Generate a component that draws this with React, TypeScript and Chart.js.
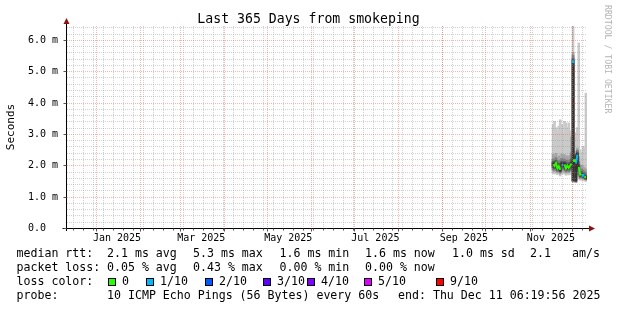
import React, { useEffect, useRef } from "react";
import { Chart, registerables } from "chart.js";

Chart.register(...registerables);

const FONT = "'DejaVu Sans Mono', monospace";

const titleText = "Last 365 Days from smokeping";
const yAxisTitle = "Seconds";
const sideText = "RRDTOOL / TOBI OETIKER";

const rangeStart = "2024-12-11T06:19:56Z";
const rangeEnd = "2025-12-11T06:19:56Z";

// one sample per day (noon)
const dayLabels = [
  "2025-11-17", "2025-11-18", "2025-11-19", "2025-11-20", "2025-11-21", "2025-11-22",
  "2025-11-23", "2025-11-24", "2025-11-25", "2025-11-26", "2025-11-27", "2025-11-28",
  "2025-11-29", "2025-11-30", "2025-12-01", "2025-12-02", "2025-12-03", "2025-12-04",
  "2025-12-05", "2025-12-06", "2025-12-07", "2025-12-08", "2025-12-09", "2025-12-10",
];

// median rtt in ms
const medianRtt = [
  2.03, 1.98, 2.07, 1.90, 1.97, 1.85, 2.03, 2.00, 2.03, 1.90, 1.99, 1.92,
  2.00, 2.05, 5.30, 2.15, 2.05, 2.34, 1.95, 1.70, 1.72, 1.68, 1.65, 1.60,
];
// lost pings out of 10 (index into lossColors)
const lossCount = [
  0, 0, 0, 0, 0, 0, 1, 1, 0, 0, 0, 0,
  0, 0, 1, 0, 1, 1, 0, 0, 0, 1, 0, 0,
];

// smoke bands (ms): outer band = ping 1..10, inner = ping 5..6
const smokeLo1 = [1.74, 1.72, 1.76, 1.70, 1.73, 1.66, 1.75, 1.72, 1.74, 1.68, 1.71, 1.69, 1.72, 1.70, 1.45, 1.62, 1.60, 1.55, 1.58, 1.52, 1.55, 1.50, 1.52, 1.48];
const smokeHi1 = [3.30, 3.40, 3.20, 3.10, 3.25, 3.45, 3.30, 3.00, 3.40, 3.35, 3.20, 3.35, 3.10, 2.95, 6.60, 3.05, 2.90, 3.20, 5.90, 2.50, 2.40, 2.60, 2.55, 4.30];
const smokeLo2 = [1.82, 1.80, 1.84, 1.76, 1.80, 1.72, 1.84, 1.80, 1.82, 1.75, 1.80, 1.76, 1.80, 1.80, 1.50, 1.75, 1.55, 1.65, 1.70, 1.57, 1.60, 1.55, 1.56, 1.52];
const smokeHi2 = [2.35, 2.30, 2.38, 2.22, 2.30, 2.20, 2.36, 2.32, 2.34, 2.22, 2.30, 2.24, 2.32, 2.90, 5.60, 2.45, 2.40, 2.55, 2.28, 1.98, 2.00, 1.95, 1.92, 1.88];
const smokeLo3 = [1.86, 1.84, 1.88, 1.80, 1.84, 1.76, 1.88, 1.85, 1.86, 1.79, 1.84, 1.80, 1.84, 1.85, 1.50, 1.80, 1.48, 1.70, 1.76, 1.60, 1.62, 1.58, 1.58, 1.54];
const smokeHi3 = [2.20, 2.15, 2.24, 2.08, 2.15, 2.05, 2.22, 2.18, 2.20, 2.08, 2.16, 2.10, 2.18, 2.40, 5.50, 2.32, 2.38, 2.48, 2.12, 1.86, 1.88, 1.84, 1.80, 1.76];
const smokeLo4 = [1.92, 1.89, 1.94, 1.84, 1.89, 1.79, 1.93, 1.90, 1.92, 1.83, 1.90, 1.85, 1.90, 1.90, 1.50, 1.90, 1.46, 1.80, 1.84, 1.63, 1.65, 1.61, 1.60, 1.56];
const smokeHi4 = [2.12, 2.07, 2.16, 2.00, 2.06, 1.96, 2.13, 2.09, 2.12, 1.99, 2.08, 2.01, 2.09, 2.20, 5.40, 2.24, 2.35, 2.42, 2.04, 1.79, 1.80, 1.76, 1.72, 1.68];
const smokeLo5 = [1.98, 1.94, 2.01, 1.87, 1.93, 1.82, 1.98, 1.96, 1.98, 1.87, 1.95, 1.89, 1.96, 1.98, 1.50, 2.05, 1.50, 1.90, 1.90, 1.66, 1.68, 1.64, 1.62, 1.57];
const smokeHi5 = [2.08, 2.02, 2.12, 1.94, 2.01, 1.89, 2.08, 2.05, 2.08, 1.94, 2.03, 1.96, 2.04, 2.10, 5.35, 2.20, 2.30, 2.38, 2.00, 1.74, 1.76, 1.72, 1.68, 1.64];

const smokeColors = ["#cacaca", "#a4a4a4", "#7e7e7e", "#585858", "#323232"];

const lossNames = ["0", "1/10", "2/10", "3/10", "4/10", "5/10", "9/10"];
const lossColors = ["#26ff00", "#00b8ff", "#0059ff", "#5e00ff", "#7e00ff", "#dd00ff", "#ff0000"];

const yMax = 6.44;
const yTickValues = [0, 1, 2, 3, 4, 5, 6];
const yTickLabels = ["0.0", "1.0 m", "2.0 m", "3.0 m", "4.0 m", "5.0 m", "6.0 m"];
const yMinorStep = 0.2;

const xLabelText = ["Jan 2025", "Mar 2025", "May 2025", "Jul 2025", "Sep 2025", "Nov 2025"];
const xLabelDates = ["2025-01-16", "2025-03-16", "2025-05-16", "2025-07-16", "2025-09-16", "2025-11-16"];

const legendRtt = [
  ["median rtt:", 16.5], ["2.1 ms avg", 107], ["5.3 ms max", 193], ["1.6 ms min", 279.5],
  ["1.6 ms now", 365], ["1.0 ms sd", 452], ["2.1", 530], ["am/s", 572],
];
const legendLoss = [
  ["packet loss:", 16.5], ["0.05 % avg", 107], ["0.43 % max", 193], ["0.00 % min", 279.5], ["0.00 % now", 365],
];
const legendLossColorX = [108, 146, 205, 263, 307, 364, 436];
const legendProbe = [
  ["probe:", 16.5], ["10 ICMP Echo Pings (56 Bytes) every 60s", 107], ["end: Thu Dec 11 06:19:56 2025", 398],
];

const DAY = 86400000;
const toMs = (d: string) => Date.parse(d + "T12:00:00Z");
const dateMs = (d: string) => Date.parse(d + "T00:00:00Z");

const GRID_MINOR = "rgba(140,140,140,0.40)";
const GRID_MAJOR = "rgba(222,80,72,0.42)";
const ARROW = "#8c1010";

function isolatedRadius(ctx: any) {
  const d = ctx.dataset.data;
  const i = ctx.dataIndex;
  const v = d[i] && d[i].y;
  if (v == null) return 0;
  const p = d[i - 1] ? d[i - 1].y : null;
  const n = d[i + 1] ? d[i + 1].y : null;
  return p == null && n == null ? 2 : 0;
}

const rrdPlugin = {
  id: "rrd",
  beforeDraw(chart: any) {
    const { ctx, width, height } = chart;
    ctx.save();
    ctx.fillStyle = "#ffffff";
    ctx.fillRect(0, 0, width, height);
    ctx.restore();
  },
  afterDatasetsDraw(chart: any) {
    const { ctx, chartArea: a, scales } = chart;
    const x = scales.x;
    const y = scales.y;
    const px = (v: number) => Math.round(x.getPixelForValue(v)) + 0.5;
    const py = (v: number) => Math.round(y.getPixelForValue(v)) + 0.5;
    const line = (x1: number, y1: number, x2: number, y2: number) => {
      ctx.beginPath();
      ctx.moveTo(x1, y1);
      ctx.lineTo(x2, y2);
      ctx.stroke();
    };
    const t0 = x.min;
    const t1 = x.max;
    ctx.save();
    ctx.lineWidth = 1;
    ctx.setLineDash([1, 1]);

    // minor horizontal grid
    ctx.strokeStyle = GRID_MINOR;
    for (let k = 1; k * yMinorStep <= yMax + 1e-9; k++) {
      if (k % 5 === 0) continue;
      const yy = py(k * yMinorStep);
      line(a.left + 1, yy, a.right, yy);
    }
    // minor vertical grid: weekly (Mondays)
    const sd = new Date(t0);
    let wk = Date.UTC(sd.getUTCFullYear(), sd.getUTCMonth(), sd.getUTCDate());
    while (new Date(wk).getUTCDay() !== 1 || wk < t0) wk += DAY;
    const weeks: number[] = [];
    for (let t = wk; t < t1; t += 7 * DAY) weeks.push(t);
    weeks.forEach((t) => line(px(t), a.top, px(t), a.bottom));
    // month starts
    const months: number[] = [];
    const yr = sd.getUTCFullYear();
    let mo = sd.getUTCMonth() + 1;
    for (;;) {
      const t = Date.UTC(yr, mo, 1);
      if (t >= t1) break;
      months.push(t);
      mo++;
    }
    ctx.strokeStyle = GRID_MAJOR;
    months.forEach((t) => line(px(t), a.top, px(t), a.bottom));
    yTickValues.forEach((v) => {
      if (v === 0) return;
      line(a.left + 1, py(v), a.right, py(v));
    });

    // axes
    ctx.setLineDash([]);
    ctx.strokeStyle = "#000000";
    const y0 = py(0);
    const xl = Math.round(a.left) + 0.5;
    line(xl - 4, y0, a.right + 3, y0);
    line(xl, a.bottom + 3, xl, a.top - 3);
    // ticks
    ctx.strokeStyle = "#555555";
    yTickValues.forEach((v) => line(xl - 3, py(v), xl, py(v)));
    weeks.forEach((t) => line(px(t), y0, px(t), y0 + 2));
    months.forEach((t) => line(px(t), y0, px(t), y0 + 3));
    // arrows
    ctx.fillStyle = ARROW;
    ctx.beginPath();
    ctx.moveTo(a.right + 2, y0 - 3);
    ctx.lineTo(a.right + 8, y0);
    ctx.lineTo(a.right + 2, y0 + 3);
    ctx.closePath();
    ctx.fill();
    ctx.beginPath();
    ctx.moveTo(xl - 3, a.top - 2);
    ctx.lineTo(xl, a.top - 8);
    ctx.lineTo(xl + 3, a.top - 2);
    ctx.closePath();
    ctx.fill();

    // tick labels
    ctx.fillStyle = "#000000";
    ctx.font = `10px ${FONT}`;
    ctx.textBaseline = "middle";
    ctx.textAlign = "left";
    yTickValues.forEach((v, i) => ctx.fillText(yTickLabels[i], 28, y.getPixelForValue(v) + 0.5));
    ctx.textAlign = "center";
    xLabelDates.forEach((d, i) => ctx.fillText(xLabelText[i], x.getPixelForValue(dateMs(d)), a.bottom + 10));
    ctx.restore();
  },
  afterDraw(chart: any) {
    const { ctx, chartArea: a, width } = chart;
    ctx.save();
    ctx.fillStyle = "#000000";
    ctx.textBaseline = "middle";
    ctx.textAlign = "left";

    // title, centred on the whole image
    ctx.save();
    ctx.font = `13.2px ${FONT}`;
    ctx.textAlign = "center";
    ctx.fillText(titleText, width / 2, 19.5);
    ctx.restore();

    // y axis title
    ctx.save();
    ctx.font = `11px ${FONT}`;
    ctx.translate(11, (a.top + a.bottom) / 2);
    ctx.rotate(-Math.PI / 2);
    ctx.textAlign = "center";
    ctx.fillText(yAxisTitle, 0, 0);
    ctx.restore();

    // side watermark
    ctx.save();
    ctx.font = `8.2px ${FONT}`;
    ctx.fillStyle = "#b4b4b4";
    ctx.translate(607.5, 5);
    ctx.rotate(Math.PI / 2);
    ctx.fillText(sideText, 0, 0);
    ctx.restore();

    // legend
    ctx.font = `11.6px ${FONT}`;
    const r1 = a.bottom + 26;
    const rh = 14;
    legendRtt.forEach(([s, xx]) => ctx.fillText(s as string, xx as number, r1));
    legendLoss.forEach(([s, xx]) => ctx.fillText(s as string, xx as number, r1 + rh));
    ctx.fillText("loss color:", 16.5, r1 + 2 * rh);
    lossNames.forEach((n, i) => {
      const bx = legendLossColorX[i];
      const by = r1 + 2 * rh - 4;
      ctx.fillStyle = lossColors[i];
      ctx.fillRect(bx, by, 8, 8);
      ctx.strokeStyle = "#000000";
      ctx.lineWidth = 1;
      ctx.strokeRect(bx + 0.5, by + 0.5, 7, 7);
      ctx.fillStyle = "#000000";
      ctx.fillText(n, bx + 14, r1 + 2 * rh);
    });
    legendProbe.forEach(([s, xx]) => ctx.fillText(s as string, xx as number, r1 + 3 * rh));
    ctx.restore();
  },
};

export default function App() {
  const ref = useRef<HTMLCanvasElement | null>(null);

  useEffect(() => {
    document.body.style.margin = "0";
    const canvas = ref.current;
    if (!canvas) return;
    const xs = dayLabels.map(toMs);
    const smokeLo = [smokeLo1, smokeLo2, smokeLo3, smokeLo4, smokeLo5];
    const smokeHi = [smokeHi1, smokeHi2, smokeHi3, smokeHi4, smokeHi5];

    const smokeSets = smokeColors.map((c, k) => ({
      type: "bar" as const,
      label: `smoke ${k + 1}`,
      data: xs.map((t, i) => ({ x: t, y: [smokeLo[k][i], smokeHi[k][i]] })),
      backgroundColor: c,
      borderWidth: 0,
      barThickness: 2,
      grouped: false,
      order: 10 - k,
    }));
    const medianSets = lossColors.map((c, k) => ({
      type: "line" as const,
      label: `median ${lossNames[k]}`,
      data: xs.map((t, i) => ({ x: t, y: lossCount[i] === k ? medianRtt[i] : null })),
      borderColor: c,
      backgroundColor: c,
      borderWidth: 2,
      pointStyle: "rect",
      pointRadius: isolatedRadius,
      pointBorderWidth: 0,
      pointHoverRadius: 0,
      spanGaps: false,
      tension: 0,
      order: 1,
    }));

    const chart = new Chart(canvas, {
      type: "bar",
      data: { datasets: [...smokeSets, ...medianSets] as any },
      options: {
        responsive: false,
        animation: false,
        devicePixelRatio: 1,
        events: [],
        layout: { padding: { left: 66, right: 30, top: 26, bottom: 82 } },
        scales: {
          x: { type: "linear", min: Date.parse(rangeStart), max: Date.parse(rangeEnd), display: false, offset: false },
          y: { type: "linear", min: 0, max: yMax, display: false },
        },
        plugins: {
          legend: { display: false },
          tooltip: { enabled: false },
          title: { display: false },
        },
      } as any,
      plugins: [rrdPlugin],
    });
    return () => chart.destroy();
  }, []);

  return (
    <div style={{ position: "absolute", left: 0, top: 0 }}>
      <canvas ref={ref} width={617} height={310} style={{ display: "block", width: 617, height: 310 }} />
    </div>
  );
}
